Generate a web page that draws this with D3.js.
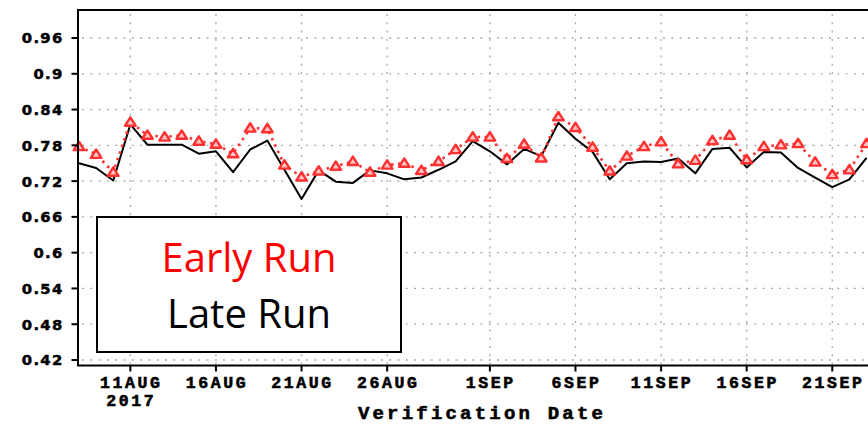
<!DOCTYPE html>
<html>
<head>
<meta charset="utf-8">
<script src="https://cdn.jsdelivr.net/npm/d3@7"></script>
<style>
  body { margin: 0; background: #fff; }
  svg { display: block; }
</style>
</head>
<body>
<div id="chart"></div>
<script>
// daily verification dates
var dates = [
  "2017-08-08", "2017-08-09", "2017-08-10", "2017-08-11", "2017-08-12", "2017-08-13",
  "2017-08-14", "2017-08-15", "2017-08-16", "2017-08-17", "2017-08-18", "2017-08-19",
  "2017-08-20", "2017-08-21", "2017-08-22", "2017-08-23", "2017-08-24", "2017-08-25",
  "2017-08-26", "2017-08-27", "2017-08-28", "2017-08-29", "2017-08-30", "2017-08-31",
  "2017-09-01", "2017-09-02", "2017-09-03", "2017-09-04", "2017-09-05", "2017-09-06",
  "2017-09-07", "2017-09-08", "2017-09-09", "2017-09-10", "2017-09-11", "2017-09-12",
  "2017-09-13", "2017-09-14", "2017-09-15", "2017-09-16", "2017-09-17", "2017-09-18",
  "2017-09-19", "2017-09-20", "2017-09-21", "2017-09-22", "2017-09-23"
];

// early run (red, triangles)
var earlyRun = [
  0.778, 0.765, 0.735, 0.819, 0.797, 0.794, 0.797, 0.787, 0.782, 0.766, 0.809, 0.808,
  0.747, 0.727, 0.737, 0.745, 0.753, 0.735, 0.747, 0.750, 0.738, 0.753, 0.773, 0.794,
  0.794, 0.758, 0.782, 0.759, 0.828, 0.810, 0.777, 0.737, 0.762, 0.778, 0.786, 0.749,
  0.755, 0.788, 0.797, 0.756, 0.778, 0.781, 0.783, 0.752, 0.731, 0.739, 0.783
];

// late run (black line)
var lateRun = [
  0.750, 0.742, 0.721, 0.815, 0.781, 0.781, 0.781, 0.766, 0.770, 0.735, 0.773, 0.788,
  0.739, 0.690, 0.738, 0.719, 0.717, 0.738, 0.733, 0.723, 0.726, 0.739, 0.753, 0.787,
  0.770, 0.748, 0.774, 0.762, 0.818, 0.791, 0.769, 0.723, 0.750, 0.753, 0.752, 0.758,
  0.733, 0.774, 0.776, 0.743, 0.769, 0.768, 0.742, 0.726, 0.710, 0.723, 0.759
];

var yTicks = [0.42, 0.48, 0.54, 0.6, 0.66, 0.72, 0.78, 0.84, 0.9, 0.96];
var xTickDates = ["2017-08-11", "2017-08-16", "2017-08-21", "2017-08-26", "2017-09-01",
  "2017-09-06", "2017-09-11", "2017-09-16", "2017-09-21"];
var xTickLabels = ["11AUG", "16AUG", "21AUG", "26AUG", "1SEP", "6SEP", "11SEP", "16SEP", "21SEP"];
var yearLabel = "2017";
var legendLabels = ["Early Run", "Late Run"];

var W = 868, H = 425;
var frame = { left: 78, top: 10, bottom: 365.5 };

var parse = d3.utcParse("%Y-%m-%d");

var svg = d3.select("#chart").append("svg")
  .attr("width", W)
  .attr("height", H);

//scales
var x = d3.scaleUtc()
  .domain([parse("2017-08-08"), parse("2017-09-26")])
  .range([79, 79 + 49 * 17.12]);

var y = d3.scaleLinear()
  .domain([0.42, 0.96])
  .range([360, 38]);

var data = dates.map(function (d, i) {
  return { date: parse(d), early: earlyRun[i], late: lateRun[i] };
});

//grid
var grid = svg.append("g").attr("class", "grid")
  .attr("stroke", "#a8a8a8")
  .attr("stroke-width", 1.3)
  .attr("stroke-dasharray", "2,6.3");

grid.selectAll(".hgrid")
  .data(yTicks)
  .enter()
  .append("line")
  .attr("x1", frame.left + 4)
  .attr("x2", W)
  .attr("y1", function (d) { return y(d); })
  .attr("y2", function (d) { return y(d); });

grid.selectAll(".vgrid")
  .data(xTickDates)
  .enter()
  .append("line")
  .attr("x1", function (d) { return x(parse(d)); })
  .attr("x2", function (d) { return x(parse(d)); })
  .attr("y1", frame.top + 4)
  .attr("y2", frame.bottom);

//late run
var lateLine = d3.line()
  .x(function (d) { return x(d.date); })
  .y(function (d) { return y(d.late); });

svg.append("path")
  .datum(data)
  .attr("d", lateLine)
  .attr("fill", "none")
  .attr("stroke", "#000")
  .attr("stroke-width", 2)
  .attr("stroke-linejoin", "round");

//early run
var earlyLine = d3.line()
  .x(function (d) { return x(d.date); })
  .y(function (d) { return y(d.early); });

svg.append("path")
  .datum(data)
  .attr("d", earlyLine)
  .attr("fill", "none")
  .attr("stroke", "#ff3030")
  .attr("stroke-width", 2.6)
  .attr("stroke-dasharray", "2.5,4.5");

svg.selectAll(".tri")
  .data(data)
  .enter()
  .append("path")
  .attr("class", "tri")
  .attr("d", "M0,-4.8L5.3,3.6L-5.3,3.6Z")
  .attr("transform", function (d) {
    return "translate(" + x(d.date) + "," + y(d.early) + ")";
  })
  .attr("fill", "#ffc4c4")
  .attr("stroke", "#ff3030")
  .attr("stroke-width", 2.4)
  .attr("stroke-linejoin", "round");

//frame
svg.append("path")
  .attr("d", "M" + W + "," + frame.top + "H" + frame.left + "V" + frame.bottom + "H" + W)
  .attr("fill", "none")
  .attr("stroke", "#000")
  .attr("stroke-width", 2);

//y axis
var yAxis = svg.append("g");
yAxis.selectAll("line")
  .data(yTicks)
  .enter()
  .append("line")
  .attr("x1", 71.5)
  .attr("x2", frame.left)
  .attr("y1", function (d) { return y(d); })
  .attr("y2", function (d) { return y(d); })
  .attr("stroke", "#000")
  .attr("stroke-width", 2);

yAxis.selectAll("text")
  .data(yTicks)
  .enter()
  .append("text")
  .attr("x", 63.5)
  .attr("y", function (d) { return y(d) + 5.4; })
  .attr("text-anchor", "end")
  .style("font-family", "DejaVu Sans")
  .style("font-weight", "bold")
  .style("font-size", "14.8px")
  .style("letter-spacing", "1.3px")
  .attr("fill", "#000")
  .attr("stroke", "#000")
  .attr("stroke-width", 0.5)
  .text(function (d) { return String(d); });

//x axis
var xAxis = svg.append("g");
xAxis.selectAll("line")
  .data(xTickDates)
  .enter()
  .append("line")
  .attr("x1", function (d) { return x(parse(d)); })
  .attr("x2", function (d) { return x(parse(d)); })
  .attr("y1", frame.bottom)
  .attr("y2", 371.5)
  .attr("stroke", "#000")
  .attr("stroke-width", 2);

xAxis.selectAll(".xlabel")
  .data(xTickDates)
  .enter()
  .append("text")
  .attr("class", "xlabel")
  .attr("x", function (d) { return x(parse(d)) + 1; })
  .attr("y", 388.3)
  .attr("text-anchor", "middle")
  .style("font-family", "Liberation Mono")
  .style("font-weight", "bold")
  .style("font-size", "16.5px")
  .style("letter-spacing", "2.6px")
  .attr("fill", "#000")
  .attr("stroke", "#000")
  .attr("stroke-width", 0.6)
  .text(function (d, i) { return xTickLabels[i]; });

xAxis.append("text")
  .attr("x", x(parse(xTickDates[0])) + 1)
  .attr("y", 405.5)
  .attr("text-anchor", "middle")
  .style("font-family", "Liberation Mono")
  .style("font-weight", "bold")
  .style("font-size", "16.5px")
  .style("letter-spacing", "2.6px")
  .attr("fill", "#000")
  .attr("stroke", "#000")
  .attr("stroke-width", 0.6)
  .text(yearLabel);

svg.append("text")
  .attr("x", 482)
  .attr("y", 418.8)
  .attr("text-anchor", "middle")
  .style("font-family", "Liberation Mono")
  .style("font-weight", "bold")
  .style("font-size", "19px")
  .style("letter-spacing", "3.2px")
  .attr("fill", "#000")
  .attr("stroke", "#000")
  .attr("stroke-width", 0.6)
  .text("Verification Date");

//legend box
var legend = svg.append("g");
legend.append("rect")
  .attr("x", 97)
  .attr("y", 217)
  .attr("width", 304)
  .attr("height", 135)
  .attr("fill", "#fff")
  .attr("stroke", "#000")
  .attr("stroke-width", 2);

legend.selectAll("text")
  .data(legendLabels)
  .enter()
  .append("text")
  .attr("x", 249)
  .attr("y", function (d, i) { return i === 0 ? 271.7 : 328.3; })
  .attr("text-anchor", "middle")
  .style("font-family", "Open Sans")
  .style("font-size", "40px")
  .attr("fill", function (d, i) { return i === 0 ? "#ff0000" : "#000"; })
  .text(function (d) { return d; });
</script>
</body>
</html>
